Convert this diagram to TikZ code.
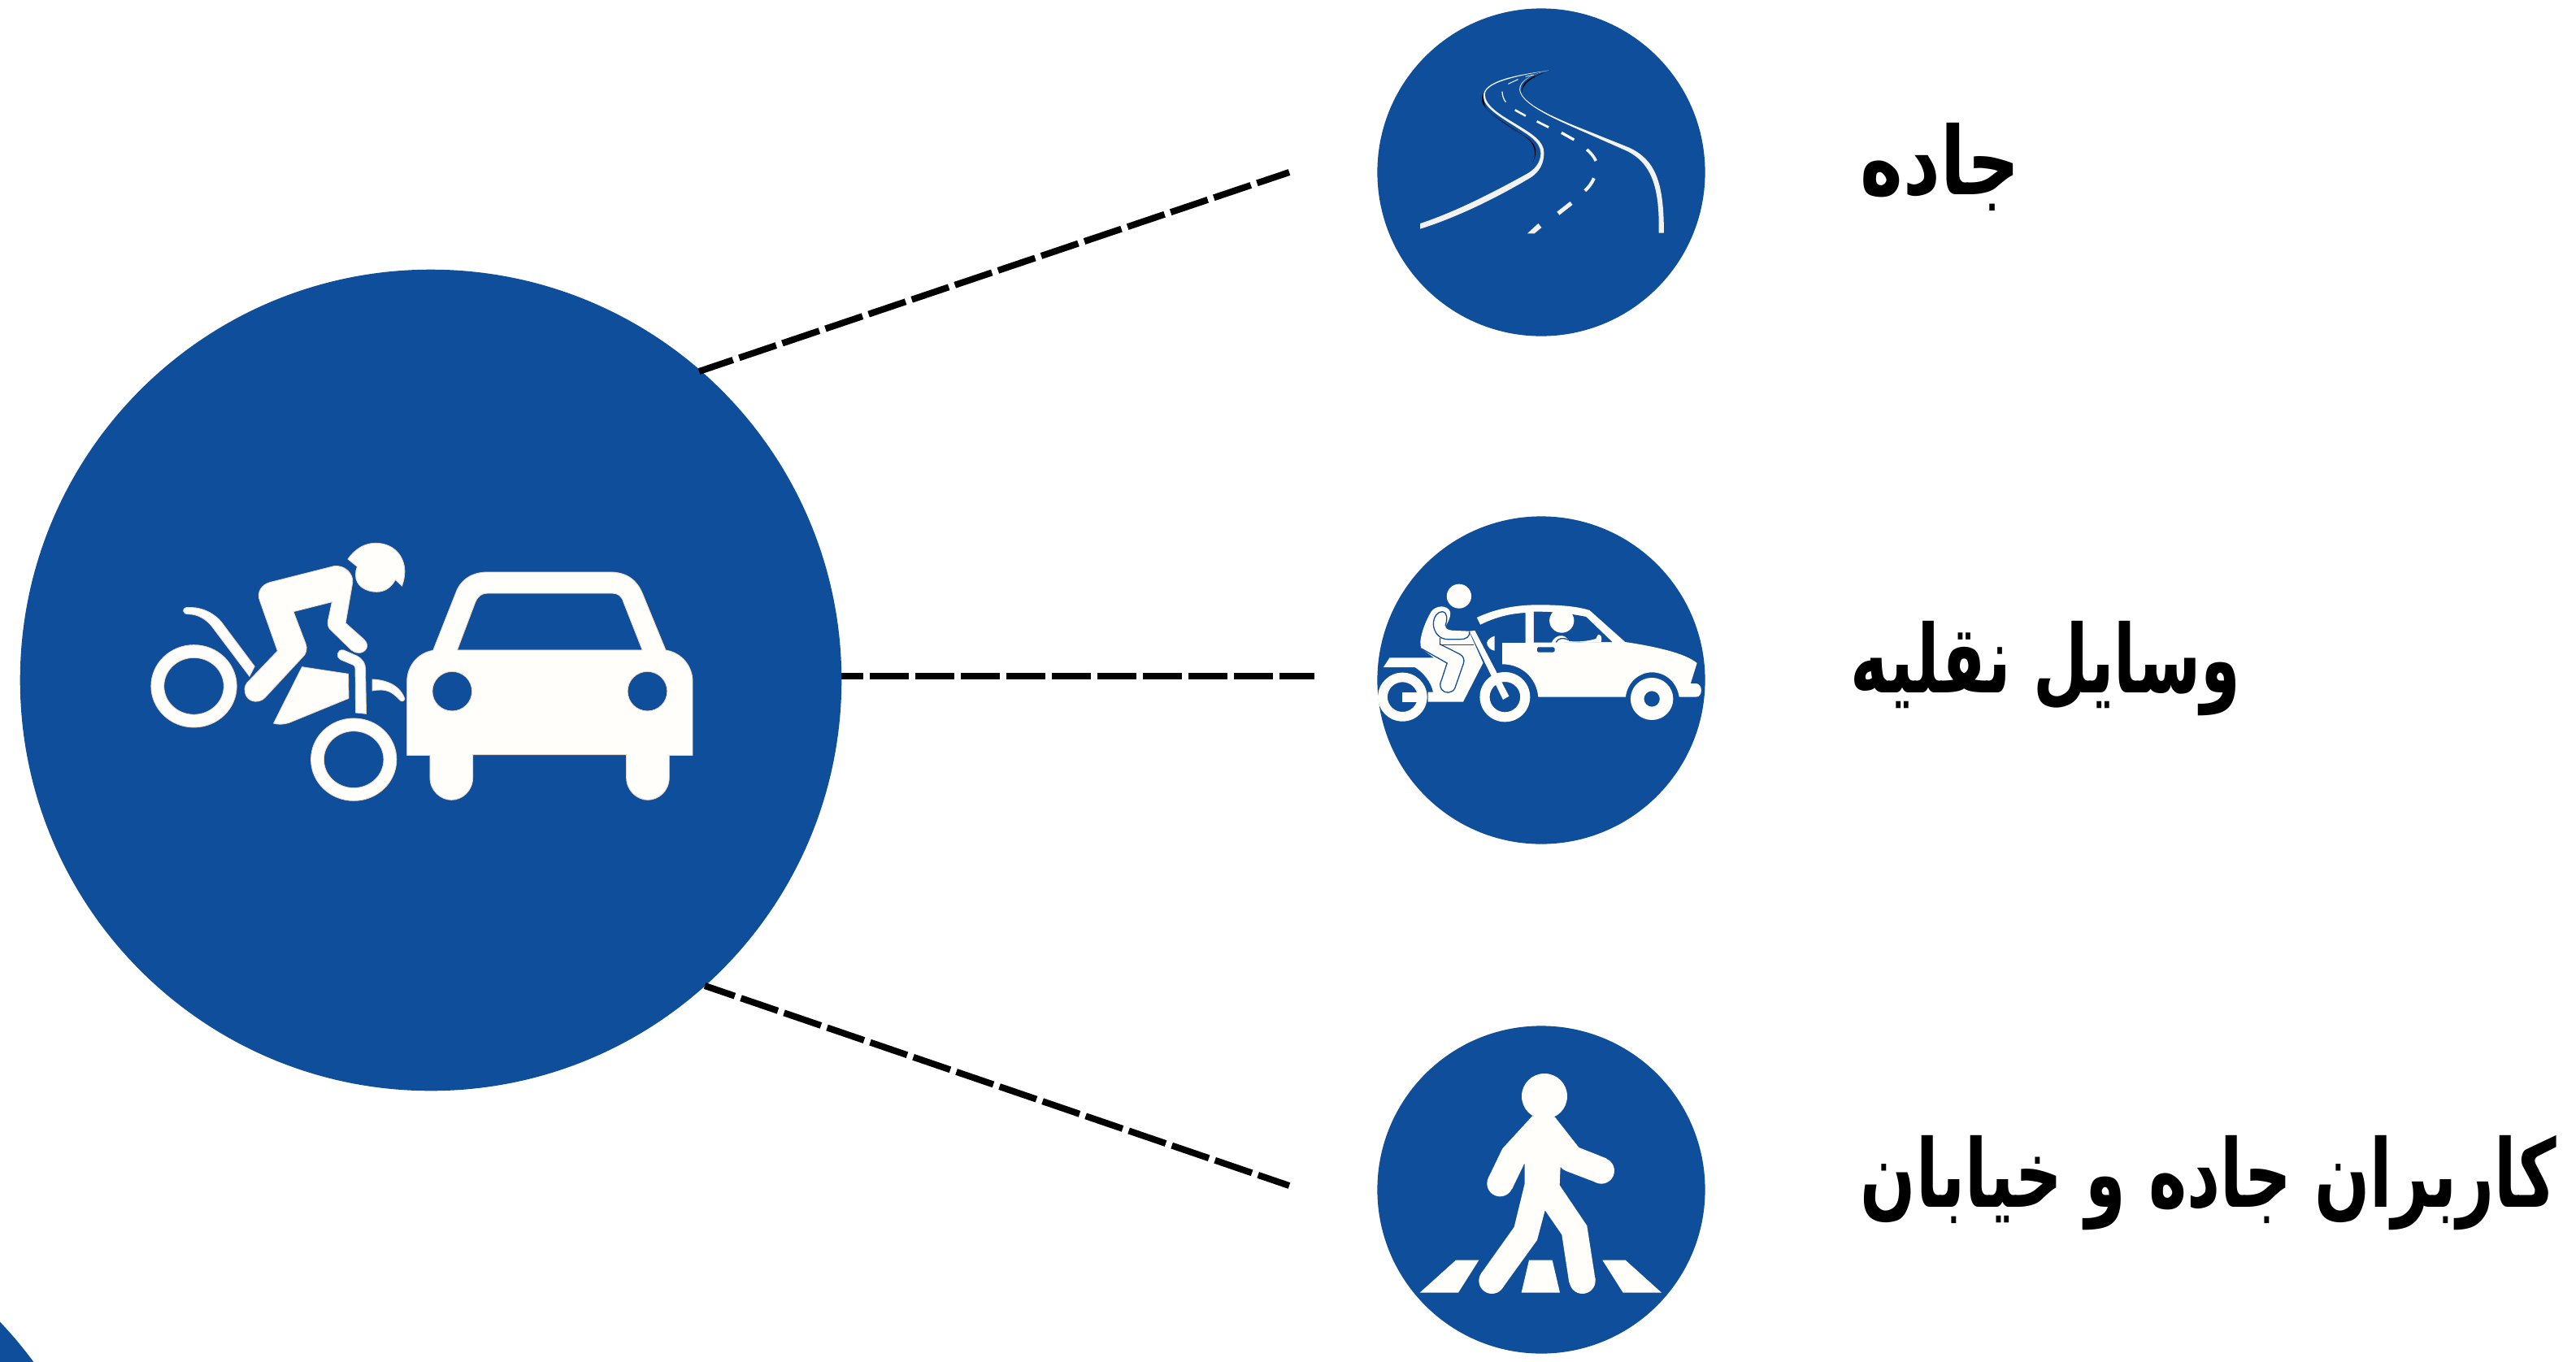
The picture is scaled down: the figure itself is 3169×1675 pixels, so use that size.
\documentclass[tikz,border=0pt]{standalone}
\usepackage{graphicx}
\usepackage{fontspec}
\newfontfamily\arabicfont[Script=Arabic]{DejaVu Sans}
\TeXXeTstate=1
\definecolor{signblue}{HTML}{0F4E9B}
\definecolor{cream}{HTML}{FFFEFA}
\definecolor{roadwhite}{HTML}{F2F2F2}
\tikzset{
  disc/.style={circle,fill=signblue,draw=none,inner sep=0pt,outer sep=0pt},
  bigdisc/.style={disc,minimum size=1.01cm*10},
  smalldisc/.style={disc,minimum size=4.03cm},
  link/.style={black,line width=0.08cm,dash pattern=on 0.48cm off 0.08cm},
  label/.style={anchor=west,inner sep=0pt,font=\arabicfont\bfseries\fontsize{33pt}{36pt}\selectfont},
  ink/.style={fill=cream,draw=none},
  edged/.style={fill=cream,draw=cream!70!brown,line width=0.25pt,even odd rule},
  hole/.style={fill=signblue,draw=none},
  bluehair/.style={draw=signblue,line width=0.013cm,fill=none},
}
\begin{document}
\begin{tikzpicture}[x=0.01cm,y=-0.01cm]
\useasboundingbox (0,0) rectangle (3169,1675);
\fill[white] (0,0) rectangle (3169,1675);
% partial disc at the lower left corner
\begin{scope}
\clip (0,0) rectangle (3169,1675);
\node[bigdisc] (corner) at (-366,1975) {};
\end{scope}
\node[bigdisc] (main) at (530,837) {};
\node[smalldisc] (road) at (1896,212) {};
\node[smalldisc] (veh) at (1896,837) {};
\node[smalldisc] (ped) at (1896,1464) {};
\coordinate (endA) at (1586,212);
\coordinate (endB) at (1617,832);
\coordinate (endC) at (1586,1459);
\coordinate (startA) at (860,457);
\coordinate (startB) at (1035,832);
\coordinate (startC) at (867,1213);
\draw[link,dash phase=0.04cm] (startA) -- (endA);
\draw[link,dash phase=0.21cm] (startB) -- (endB);
\draw[link,dash phase=0.09cm] (startC) -- (endC);
% ---- main icon
\begin{scope}[shift={(150,620)},xscale=0.4785,yscale=0.3333]
\path[edged] (581,204) .. controls (600,165) and (625,145) .. (652,145) .. controls (700,145) and (727,195) .. (727,250) .. controls (727,270) and (724,285) .. (720,303) -- (703,280) .. controls (692,310) and (675,325) .. (655,325) .. controls (625,325) and (601,300) .. (601,265) .. controls (601,250) and (602,240) .. (605,232) -- cycle;
\path[edged] (380,290) -- (545,230) .. controls (575,225) and (595,260) .. (593,290) -- (575,440) -- (622,500) .. controls (640,525) and (625,550) .. (610,550) .. controls (600,550) and (595,545) .. (590,540) -- (540,470) .. controls (530,460) and (528,445) .. (530,430) -- (540,362) -- (441,398) -- (472,515) .. controls (478,535) and (473,555) .. (465,565) -- (368,715) .. controls (355,735) and (330,735) .. (320,710) .. controls (313,690) and (315,672) .. (322,660) -- (400,543) -- (355,360) .. controls (345,325) and (360,298) .. (380,290) -- cycle;
\path[edged] (165,383) .. controls (210,378) and (240,410) .. (255,435) -- (341,600) -- (328,637) -- (230,450) .. controls (215,425) and (195,407) .. (170,407) .. controls (155,407) and (155,385) .. (165,383) -- cycle;
\path[edged] (185,673) circle [x radius=110,y radius=152] (185,673) circle [x radius=77,y radius=105];
\path[edged] (596,944) circle [x radius=110,y radius=152] (596,944) circle [x radius=77,y radius=105];
\path[edged] (463,602) -- (582,628) -- (583,718) -- (430,808) .. controls (415,815) and (400,815) .. (390,810) -- cycle;
\path[edged] (570,540) -- (605,562) .. controls (620,575) and (626,590) .. (626,610) -- (628,775) -- (601,771) -- (600,610) .. controls (600,600) and (597,595) .. (590,592) -- (562,575) .. controls (550,568) and (552,535) .. (570,540) -- cycle;
\path[edged] (644,648) .. controls (680,650) and (715,670) .. (727,720) .. controls (725,730) and (718,732) .. (713,722) .. controls (695,695) and (680,680) .. (644,690) -- cycle;
\path[edged] (800,541) -- (858,330) .. controls (870,280) and (900,252) .. (940,252) -- (1255,252) .. controls (1300,252) and (1325,285) .. (1338,330) -- (1398,540) .. controls (1440,550) and (1467,600) .. (1467,655) -- (1467,928) -- (1407,928) -- (1407,1010) .. controls (1407,1060) and (1380,1093) .. (1352,1093) .. controls (1325,1093) and (1297,1060) .. (1297,1010) -- (1297,926) -- (902,926) -- (902,1010) .. controls (902,1060) and (875,1093) .. (847,1093) .. controls (820,1093) and (792,1060) .. (792,1010) -- (792,928) -- (733,928) -- (733,655) .. controls (733,600) and (760,550) .. (800,541) -- cycle
 (862,540) -- (908,365) .. controls (915,340) and (925,330) .. (940,330) -- (1260,330) .. controls (1275,330) and (1285,340) .. (1290,365) -- (1338,540) -- cycle
 (849,692) circle [x radius=51,y radius=73]
 (1351,692) circle [x radius=51,y radius=73];
\end{scope}
% ---- road icon
\begin{scope}[shift={(1680,60)},xscale=0.336,yscale=0.3333]
\fill[black] (445,150) .. controls (425,165) and (420,190) .. (430,205) .. controls (450,240) and (520,285) .. (570,315) .. controls (610,340) and (632,370) .. (612,420) .. controls (628,385) and (628,360) .. (600,335) .. controls (560,305) and (480,260) .. (445,225) .. controls (430,205) and (428,170) .. (445,150) -- cycle;
\fill[black] (655,88) .. controls (600,105) and (570,125) .. (572,160) .. controls (576,128) and (610,105) .. (655,88) -- cycle;
\fill[roadwhite] (670,80) .. controls (540,98) and (431,120) .. (431,175) .. controls (431,215) and (490,250) .. (540,282) .. controls (590,315) and (640,340) .. (641,385) .. controls (641,420) and (620,445) .. (590,462) .. controls (450,540) and (320,605) .. (200,645) -- (200,665) .. controls (340,620) and (480,550) .. (605,475) .. controls (635,455) and (653,425) .. (653,385) .. controls (653,340) and (610,315) .. (545,275) .. controls (495,245) and (437,210) .. (437,170) .. controls (437,125) and (545,102) .. (670,80) -- cycle;
\fill[roadwhite] (670,80) .. controls (610,92) and (565,118) .. (566,150) .. controls (568,195) and (660,240) .. (755,280) -- (965,365) .. controls (1060,410) and (1092,490) .. (1092,680) -- (1073,680) .. controls (1078,500) and (1040,420) .. (958,378) -- (750,285) .. controls (650,240) and (566,195) .. (563,150) .. controls (562,118) and (610,92) .. (670,80) -- cycle;
\draw[white,line width=0.008cm] (585,103) -- (615,96);
\draw[white,line width=0.01cm] (522,130) -- (558,113);
\draw[white,line width=0.012cm] (500,158) .. controls (500,172) and (505,186) .. (513,197);
\draw[white,line width=0.025cm] (547,226) -- (586,248);
\draw[white,line width=0.027cm] (627,268) -- (670,290);
\draw[white,line width=0.033cm] (717,310) -- (763,336);
\draw[roadwhite,line width=0.036cm] (810,372) .. controls (825,385) and (837,400) .. (843,414);
\draw[roadwhite,line width=0.04cm] (836,478) .. controls (828,497) and (816,512) .. (803,524);
\draw[roadwhite,line width=0.05cm] (753,570) -- (705,608);
\fill[roadwhite] (632,645) -- (644,660) -- (618,682) -- (592,682) -- cycle;
\end{scope}
% ---- vehicle icon
\begin{scope}[shift={(1680,690)},xscale=0.336,yscale=0.3333]
\fill[ink] (342,131) circle [radius=45];
\fill[ink] (407,210) .. controls (480,175) and (560,162) .. (640,163) .. controls (720,163) and (780,170) .. (820,183) -- (950,300) .. controls (1050,315) and (1170,340) .. (1213,378) -- (1190,453) -- (1210,453) .. controls (1235,455) and (1235,503) .. (1210,503) -- (1148,503) .. controls (1140,450) and (1100,412) .. (1048,412) .. controls (1000,412) and (958,450) .. (952,503) -- (632,503) .. controls (625,430) and (570,382) .. (500,382) -- (500,303) -- (585,303) -- (585,192) .. controls (530,195) and (475,208) .. (420,236) -- cycle;
\fill[hole] (616,188) .. controls (680,187) and (750,195) .. (807,207) -- (903,300) -- (616,302) -- cycle;
\fill[ink] (718,221) circle [radius=45];
\fill[ink] (680,303) .. controls (695,270) and (730,268) .. (745,297) .. controls (780,300) and (815,297) .. (843,288) -- (850,274) .. controls (858,270) and (868,278) .. (862,300) -- cycle;
\draw[bluehair] (697,301) .. controls (705,285) and (722,283) .. (742,292);
\fill[hole,rounded corners=0.015cm] (628,319) rectangle (692,338);
\fill[ink] (472,278) .. controls (450,285) and (440,300) .. (445,310) .. controls (450,322) and (460,330) .. (472,332) -- cycle;
\path[ink,even odd rule] (1048,510) circle [radius=78] (1048,510) circle [radius=29];
% moped
\path[ink,even odd rule] (135,503) circle [radius=90] (135,503) circle [radius=55];
\fill[ink] (135,487) rectangle (192,521);
\path[ink,even odd rule] (510,503) circle [radius=92] (510,503) circle [radius=56];
\fill[ink] (65,393) -- (88,358) -- (250,358) -- (205,325) .. controls (190,300) and (215,230) .. (240,188) .. controls (255,165) and (300,160) .. (310,190) .. controls (312,210) and (300,230) .. (292,243) .. controls (295,255) and (310,258) .. (330,258) -- (378,260) -- (400,310) -- (430,377) -- (357,521) -- (228,521) -- (228,485) -- (247,485) .. controls (240,450) and (215,415) .. (180,393) -- cycle;
\fill[ink] (380,260) -- (400,258) -- (525,500) -- (503,513) -- cycle;
\draw[bluehair] (380,262) .. controls (382,280) and (370,290) .. (345,290) -- (300,290) .. controls (270,290) and (250,265) .. (248,235) .. controls (248,205) and (265,188) .. (280,188) .. controls (300,190) and (300,215) .. (292,240);
\draw[bluehair] (272,285) -- (272,308) -- (345,345) .. controls (360,355) and (362,365) .. (358,380) -- (327,470) .. controls (318,490) and (290,492) .. (278,475) .. controls (270,462) and (273,450) .. (278,440) -- (298,378) -- (205,325);
\draw[bluehair] (272,311) -- (395,311);
\end{scope}
% ---- pedestrian icon
\begin{scope}[shift={(1700,1280)},xscale=0.3333,yscale=0.3333]
\fill[ink] (600,207) circle [radius=84];
\fill[ink] (555,280) -- (445,400) -- (393,508) -- (480,550) -- (527,453) -- (527,530) -- (488,690) -- (367,860) -- (445,915) -- (573,738) -- (602,628) -- (664,718) -- (691,895) -- (788,885) -- (757,685) -- (656,535) -- (659,467) .. controls (665,475) and (672,480) .. (680,483) -- (790,525) -- (830,437) -- (727,396) -- (638,283) -- cycle;
\fill[ink] (436,529) circle [radius=48];
\fill[ink] (406,888) circle [radius=48];
\fill[ink] (740,888) circle [radius=48];
\fill[ink] (810,482) circle [radius=48];
\fill[ink] (140,932) -- (273,812) -- (358,812) -- (282,932) -- cycle;
\fill[ink] (515,932) -- (543,812) -- (629,812) -- (657,932) -- cycle;
\fill[ink] (814,812) -- (899,812) -- (1032,932) -- (890,932) -- cycle;
\end{scope}
% ---- labels
\node[label] (t1) at (2288,205) {\scalebox{0.77}[1]{\beginR جاده\endR}};
\node[label] (t2) at (2276,823) {\scalebox{0.676}[1]{\beginR وسایل نقلیه\endR}};
\node[label] (t3) at (2288,1456) {\scalebox{0.69}[1]{\beginR کاربران جاده و خیابان\endR}};
\end{tikzpicture}
\end{document}
